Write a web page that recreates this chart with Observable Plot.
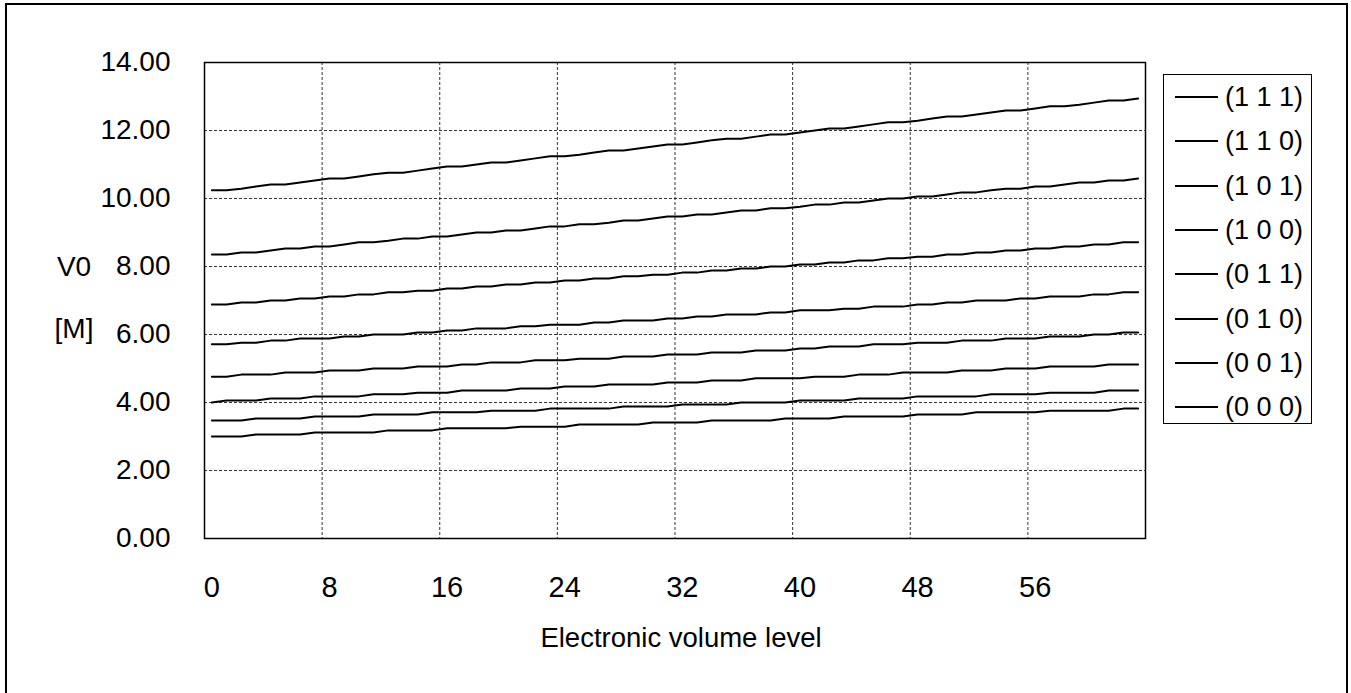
<!DOCTYPE html>
<html>
<head>
<meta charset="utf-8">
<script src="https://cdn.jsdelivr.net/npm/d3@7"></script>
<script src="https://cdn.jsdelivr.net/npm/@observablehq/plot@0.6"></script>
<style>
  html, body { margin: 0; padding: 0; background: #fff; }
  #wrap { position: relative; width: 1351px; height: 693px; overflow: hidden; background: #fff;
          font-family: "Liberation Sans", Arial, Helvetica, sans-serif; color: #000; }
  #border { position: absolute; left: 5px; top: 3px; width: 1339px; height: 720px; border: 2px solid #000; }
  #chart { position: absolute; left: 0; top: 0; }
  .txt { position: absolute; font-size: 28px; line-height: 28px; white-space: nowrap; }
  #legend { position: absolute; left: 1163px; top: 74px; width: 149px; height: 350px; border: 1px solid #000; box-sizing: border-box; }
  .lrow { position: absolute; left: 0; height: 44px; width: 149px; }
  .lline { position: absolute; left: 11px; width: 43px; height: 2px; top: 21px; background: #000; }
  .ltext { position: absolute; left: 61px; top: 8px; font-size: 27px; line-height: 28px; }
</style>
</head>
<body>
<div id="wrap">
  <div id="border"></div>
  <div id="chart"></div>
  <div class="txt" style="left:74px; top:253px; transform:translateX(-50%);">V0</div>
  <div class="txt" style="left:74px; top:315px; transform:translateX(-50%);">[M]</div>
  <div class="txt" style="left:681px; top:624px; transform:translateX(-50%); font-size:27.5px;">Electronic volume level</div>
  <div id="legend"></div>
</div>
<script>
// ---- data ----
const levels = [0,1,2,3,4,5,6,7,8,9,10,11,12,13,14,15,16,17,18,19,20,21,22,23,24,25,26,27,28,29,30,31,
                32,33,34,35,36,37,38,39,40,41,42,43,44,45,46,47,48,49,50,51,52,53,54,55,56,57,58,59,60,61,62,63];

const seriesNames = ["(1 1 1)", "(1 1 0)", "(1 0 1)", "(1 0 0)", "(0 1 1)", "(0 1 0)", "(0 0 1)", "(0 0 0)"];

const v111 = [10.24,10.24,10.29,10.35,10.41,10.41,10.47,10.53,
              10.59,10.59,10.65,10.71,10.76,10.76,10.82,10.88,
              10.94,10.94,11.00,11.06,11.06,11.12,11.18,11.24,
              11.24,11.29,11.35,11.41,11.41,11.47,11.53,11.59,
              11.59,11.65,11.71,11.76,11.76,11.82,11.88,11.88,
              11.94,12.00,12.06,12.06,12.12,12.18,12.24,12.24,
              12.29,12.35,12.41,12.41,12.47,12.53,12.59,12.59,
              12.65,12.71,12.71,12.76,12.82,12.88,12.88,12.94];
const v110 = [8.35,8.35,8.41,8.41,8.47,8.53,8.53,8.59,
              8.59,8.65,8.71,8.71,8.76,8.82,8.82,8.88,
              8.88,8.94,9.00,9.00,9.06,9.06,9.12,9.18,
              9.18,9.24,9.24,9.29,9.35,9.35,9.41,9.47,
              9.47,9.53,9.53,9.59,9.65,9.65,9.71,9.71,
              9.76,9.82,9.82,9.88,9.88,9.94,10.00,10.00,
              10.06,10.06,10.12,10.18,10.18,10.24,10.29,10.29,
              10.35,10.35,10.41,10.47,10.47,10.53,10.53,10.59];
const v101 = [6.88,6.88,6.94,6.94,7.00,7.00,7.06,7.06,
              7.12,7.12,7.18,7.18,7.24,7.24,7.29,7.29,
              7.35,7.35,7.41,7.41,7.47,7.47,7.53,7.53,
              7.59,7.59,7.65,7.65,7.71,7.71,7.76,7.76,
              7.82,7.82,7.88,7.88,7.94,7.94,8.00,8.00,
              8.06,8.06,8.12,8.12,8.18,8.18,8.24,8.24,
              8.29,8.29,8.35,8.35,8.41,8.41,8.47,8.47,
              8.53,8.53,8.59,8.59,8.65,8.65,8.71,8.71];
const v100 = [5.71,5.71,5.76,5.76,5.82,5.82,5.88,5.88,
              5.88,5.94,5.94,6.00,6.00,6.00,6.06,6.06,
              6.12,6.12,6.18,6.18,6.18,6.24,6.24,6.29,
              6.29,6.29,6.35,6.35,6.41,6.41,6.41,6.47,
              6.47,6.53,6.53,6.59,6.59,6.59,6.65,6.65,
              6.71,6.71,6.71,6.76,6.76,6.82,6.82,6.82,
              6.88,6.88,6.94,6.94,7.00,7.00,7.00,7.06,
              7.06,7.12,7.12,7.12,7.18,7.18,7.24,7.24];
const v011 = [4.76,4.76,4.82,4.82,4.82,4.88,4.88,4.88,
              4.94,4.94,4.94,5.00,5.00,5.00,5.06,5.06,
              5.06,5.12,5.12,5.18,5.18,5.18,5.24,5.24,
              5.24,5.29,5.29,5.29,5.35,5.35,5.35,5.41,
              5.41,5.41,5.47,5.47,5.47,5.53,5.53,5.53,
              5.59,5.59,5.65,5.65,5.65,5.71,5.71,5.71,
              5.76,5.76,5.76,5.82,5.82,5.82,5.88,5.88,
              5.88,5.94,5.94,5.94,6.00,6.00,6.06,6.06];
const v010 = [4.00,4.06,4.06,4.06,4.12,4.12,4.12,4.18,
              4.18,4.18,4.18,4.24,4.24,4.24,4.29,4.29,
              4.29,4.35,4.35,4.35,4.35,4.41,4.41,4.41,
              4.47,4.47,4.47,4.53,4.53,4.53,4.53,4.59,
              4.59,4.59,4.65,4.65,4.65,4.71,4.71,4.71,
              4.71,4.76,4.76,4.76,4.82,4.82,4.82,4.88,
              4.88,4.88,4.88,4.94,4.94,4.94,5.00,5.00,
              5.00,5.06,5.06,5.06,5.06,5.12,5.12,5.12];
const v001 = [3.47,3.47,3.47,3.53,3.53,3.53,3.53,3.59,
              3.59,3.59,3.59,3.65,3.65,3.65,3.65,3.71,
              3.71,3.71,3.71,3.76,3.76,3.76,3.76,3.82,
              3.82,3.82,3.82,3.82,3.88,3.88,3.88,3.88,
              3.94,3.94,3.94,3.94,4.00,4.00,4.00,4.00,
              4.06,4.06,4.06,4.06,4.12,4.12,4.12,4.12,
              4.18,4.18,4.18,4.18,4.18,4.24,4.24,4.24,
              4.24,4.29,4.29,4.29,4.29,4.35,4.35,4.35];
const v000 = [3.00,3.00,3.00,3.06,3.06,3.06,3.06,3.12,
              3.12,3.12,3.12,3.12,3.18,3.18,3.18,3.18,
              3.24,3.24,3.24,3.24,3.24,3.29,3.29,3.29,
              3.29,3.35,3.35,3.35,3.35,3.35,3.41,3.41,
              3.41,3.41,3.47,3.47,3.47,3.47,3.47,3.53,
              3.53,3.53,3.53,3.59,3.59,3.59,3.59,3.59,
              3.65,3.65,3.65,3.65,3.71,3.71,3.71,3.71,
              3.71,3.76,3.76,3.76,3.76,3.76,3.82,3.82];

const xTickLabels = [0, 8, 16, 24, 32, 40, 48, 56];
const yTickValues = [0, 2, 4, 6, 8, 10, 12, 14];
const xGridLevels = [7.5, 15.5, 23.5, 31.5, 39.5, 47.5, 55.5];

// ---- build table ----
const seriesValues = [v111, v110, v101, v100, v011, v010, v001, v000];
const rows = seriesNames.flatMap((name, j) =>
  seriesValues[j].map((v, i) => ({level: levels[i], v, series: name})));

const gridStyle = {stroke: "#000", strokeWidth: 1, strokeDasharray: "3,2", strokeOpacity: 0.8};

const chart = Plot.plot({
  width: 1351,
  height: 693,
  marginLeft: 204,
  marginRight: 206,
  marginTop: 62,
  marginBottom: 155,
  x: {domain: [-0.5, 63.5]},
  y: {domain: [0, 14]},
  style: {fontFamily: '"Liberation Sans", Arial, sans-serif', color: "#000", background: "transparent", overflow: "visible"},
  marks: [
    Plot.ruleY(yTickValues.filter(d => d > 0 && d < 14), gridStyle),
    Plot.ruleX(xGridLevels, gridStyle),
    Plot.line(rows, {x: "level", y: "v", z: "series", stroke: "#000", strokeWidth: 2}),
    Plot.frame({stroke: "#000", strokeWidth: 1.5}),
    Plot.axisX({ticks: xTickLabels, tickFormat: d => String(d), tickSize: 0, tickPadding: 38, fontSize: 29, label: null}),
    Plot.axisY({ticks: yTickValues, tickFormat: d3.format(".2f"), tickSize: 0, tickPadding: 34, fontSize: 28, label: null})
  ]
});
document.getElementById("chart").appendChild(chart);

// ---- legend ----
const legend = document.getElementById("legend");
seriesNames.forEach((name, j) => {
  const row = document.createElement("div");
  row.className = "lrow";
  row.style.top = (96 - 74 - 22 + j * 44.3) + "px";
  const line = document.createElement("div");
  line.className = "lline";
  const t = document.createElement("div");
  t.className = "ltext";
  t.textContent = name;
  row.appendChild(line);
  row.appendChild(t);
  legend.appendChild(row);
});
</script>
</body>
</html>
